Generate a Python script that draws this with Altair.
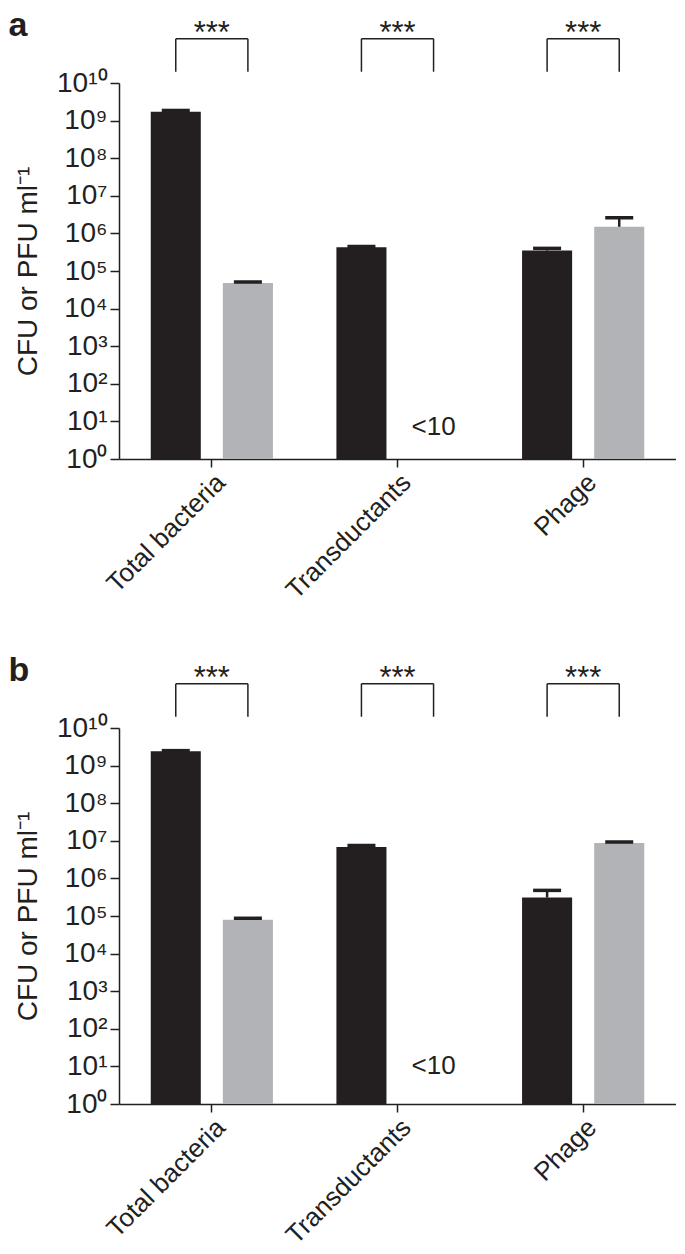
import altair as alt
import pandas as pd

# ---------------- data ----------------
categories = ["Total bacteria", "Transductants", "Phage"]
series = ["Series 1", "Series 2"]
series_colors = ["#231f20", "#b1b3b6"]

# panel a
a_dark = [1.73e9, 4.3e5, 3.5e5]
a_dark_err = [1.86e9, 4.5e5, 4.0e5]
a_light = [4.8e4, None, 1.5e6]
a_light_err = [5.1e4, None, 2.6e6]
a_below_limit_y = 7.0

# panel b
b_dark = [2.4e9, 6.8e6, 3.1e5]
b_dark_err = [2.5e9, 7.5e6, 4.8e5]
b_light = [7.9e4, None, 8.7e6]
b_light_err = [8.7e4, None, 9.3e6]
b_below_limit_y = 10.0

significance = ["***", "***", "***"]
below_limit_text = "<10"
bracket_low = 10 ** 10.3
bracket_high = 10 ** 11.18

y_ticks = [10 ** k for k in range(11)]
y_tick_labels = ["10⁰", "10¹", "10²", "10³", "10⁴", "10⁵", "10⁶", "10⁷", "10⁸", "10⁹", "10¹⁰"]

FONT = "Liberation Sans"
INK = "#231f20"

label_expr = "[" + ",".join("'" + s + "'" for s in y_tick_labels) + "][round(log(datum.value)/LN10)]"

y_axis = alt.Axis(
    values=y_ticks, labelExpr=label_expr, grid=False, tickSize=9, tickWidth=1.5,
    domainWidth=1.5, domainColor=INK, tickColor=INK, labelColor=INK,
    labelFont=FONT, labelFontSize=28, labelPadding=3,
    title="CFU or PFU ml⁻¹", titleFont=FONT, titleFontSize=28, titleFontWeight="normal",
    titleColor=INK, titlePadding=14,
)
x_axis = alt.Axis(
    title=None, labelAngle=-45, labelFont=FONT, labelFontSize=26, labelColor=INK,
    tickSize=8, tickWidth=1.5, tickColor=INK, domainWidth=1.5, domainColor=INK,
    labelPadding=2, labelAlign="right", labelBaseline="top", grid=False,
)
y_scale = alt.Scale(type="log", domain=[1, 1e10])
x_scale = alt.Scale(paddingInner=0, paddingOuter=0)
xo_scale = alt.Scale(paddingInner=0.306, paddingOuter=0.44)


def X():
    return alt.X("category:N", sort=categories, scale=x_scale, axis=x_axis)


def XO():
    return alt.XOffset("series:N", sort=series, scale=xo_scale)


def Y(field):
    return alt.Y(field + ":Q", scale=y_scale, axis=y_axis)


def panel(letter, dark, dark_err, light, light_err, below_y):
    rows = []
    for c, v, e in zip(categories, dark, dark_err):
        rows.append(dict(category=c, series=series[0], value=v, err=e))
    for c, v, e in zip(categories, light, light_err):
        if v is not None:
            rows.append(dict(category=c, series=series[1], value=v, err=e))
    df = pd.DataFrame(rows)

    legs = pd.DataFrame([
        dict(category=c, series=s, low=bracket_low, high=bracket_high)
        for c in categories for s in series
    ])
    tops = pd.DataFrame(dict(category=categories, high=[bracket_high] * 3, sig=significance))
    lim = pd.DataFrame([dict(category=categories[1], series=series[1], y=below_y, txt=below_limit_text)])

    bars = alt.Chart(df).mark_bar(cornerRadius=0).encode(
        x=X(), xOffset=XO(), y=Y("value"), y2=alt.datum(1),
        color=alt.Color("series:N", scale=alt.Scale(domain=series, range=series_colors), legend=None),
    )
    whisk = alt.Chart(df).mark_rule(color=INK, strokeWidth=2.5).encode(
        x=X(), xOffset=XO(), y=Y("value"), y2="err:Q")
    caps = alt.Chart(df).mark_tick(color=INK, thickness=3.5, size=28, opacity=1).encode(
        x=X(), xOffset=XO(), y=Y("err"))
    leg_rules = alt.Chart(legs).mark_rule(color=INK, strokeWidth=1.5).encode(
        x=X(), xOffset=XO(), y=Y("low"), y2="high:Q")
    top_rules = alt.Chart(tops).mark_tick(color=INK, thickness=1.5, size=72, opacity=1).encode(
        x=X(), y=Y("high"))
    stars = alt.Chart(tops).mark_text(font=FONT, fontSize=31, color=INK, baseline="alphabetic", dy=4).encode(
        x=X(), y=Y("high"), text="sig:N")
    limit = alt.Chart(lim).mark_text(font=FONT, fontSize=26, color=INK, align="center", baseline="middle").encode(
        x=X(), xOffset=XO(), y=Y("y"), text="txt:N")

    return alt.layer(bars, whisk, caps, leg_rules, top_rules, stars, limit).properties(
        width=557, height=376,
        title=alt.TitleParams(letter, anchor="start", font=FONT, fontSize=34, fontWeight="bold",
                              color=INK, offset=-25, dx=-6),
    )


pa = panel("a", a_dark, a_dark_err, a_light, a_light_err, a_below_limit_y)
pb = panel("b", b_dark, b_dark_err, b_light, b_light_err, b_below_limit_y)

chart = alt.vconcat(pa, pb, spacing=49).properties(
    padding={"left": 0, "top": 0, "right": 0, "bottom": 0}
).configure_view(stroke=None)

chart.save("out.html", embed_options={"renderer": "svg", "actions": False})
